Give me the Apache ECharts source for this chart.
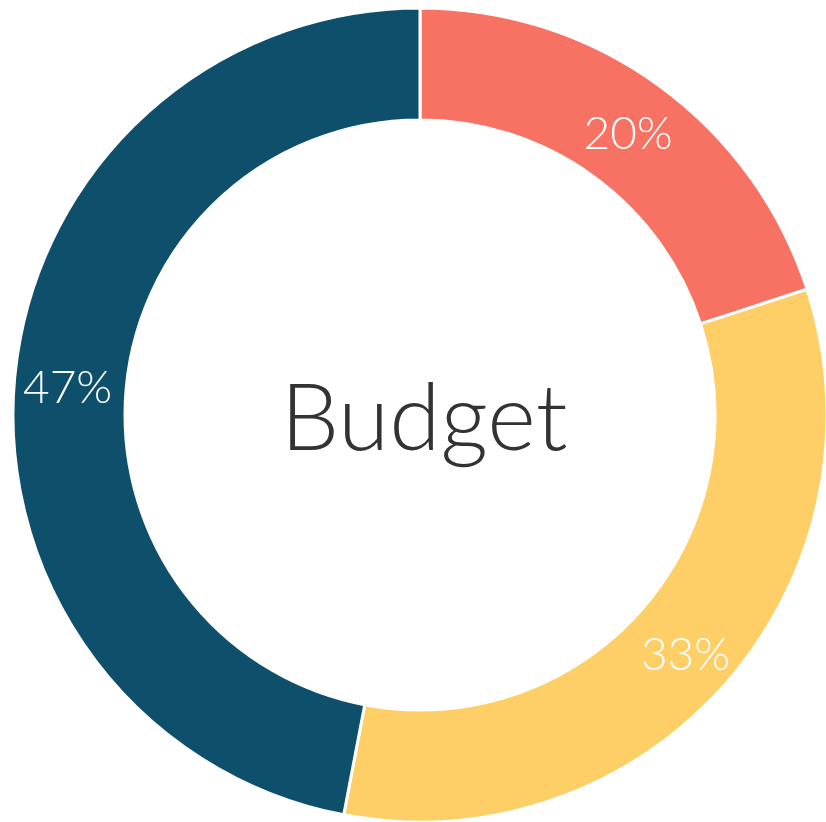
<!DOCTYPE html>
<html>
<head>
    <meta charset="utf-8">
    <title>Budget</title>
    <style>
        html, body { margin: 0; padding: 0; background: #fff; }
        #chart { width: 826px; height: 822px; }
    </style>
</head>
<body>
<div id="chart"></div>
<script src="https://cdn.jsdelivr.net/npm/echarts@6/dist/echarts.min.js"></script>
<script>
    // data
    var names = ['A', 'B', 'C'];
    var values = [20, 33, 47];
    var colors = ['#F87263', '#FECF67', '#0E4F6B'];
    var centerLabel = 'Budget';

    var data = names.map(function (n, i) {
        return { name: n, value: values[i], itemStyle: { color: colors[i] } };
    });

    var myChart = echarts.init(document.getElementById('chart'));
    myChart.setOption({
        animation: false,
        graphic: [{
            type: 'text',
            x: 424,
            y: 420,
            style: {
                text: centerLabel,
                fill: '#333333',
                font: '300 93px Lato, "Open Sans", sans-serif',
                align: 'center',
                verticalAlign: 'middle'
            }
        }],
        series: [{
            type: 'pie',
            center: [420, 415],
            radius: [295, 407],
            startAngle: 90,
            clockwise: true,
            data: data,
            itemStyle: { borderColor: '#fff', borderWidth: 3 },
            label: {
                show: true,
                position: 'inside',
                formatter: '{c}%',
                color: '#fff',
                fontFamily: 'Lato',
                fontWeight: 300,
                fontSize: 46,
                offset: [0, 6]
            },
            labelLine: { show: false }
        }]
    });
</script>
</body>
</html>
